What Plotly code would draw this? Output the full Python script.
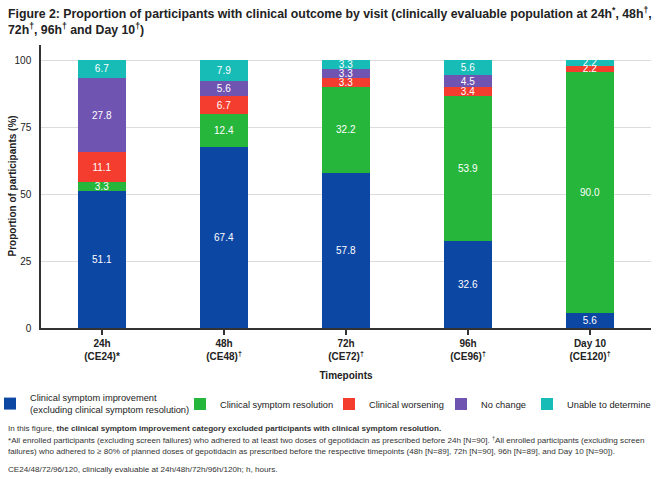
import plotly.graph_objects as go

categories = ["24h<br>(CE24)*", "48h<br>(CE48)<sup>†</sup>", "72h<br>(CE72)<sup>†</sup>",
              "96h<br>(CE96)<sup>†</sup>", "Day 10<br>(CE120)<sup>†</sup>"]
improvement = [51.1, 67.4, 57.8, 32.6, 5.6]
resolution = [3.3, 12.4, 32.2, 53.9, 90.0]
worsening = [11.1, 6.7, 3.3, 3.4, 2.2]
no_change = [27.8, 5.6, 3.3, 4.5, 0.0]
unable = [6.7, 7.9, 3.3, 5.6, 2.2]

series = [
    ("Clinical symptom improvement<br>(excluding clinical symptom resolution)", improvement, "#0c47a3"),
    ("Clinical symptom resolution", resolution, "#27b63c"),
    ("Clinical worsening", worsening, "#f43c2f"),
    ("No change", no_change, "#7054b2"),
    ("Unable to determine", unable, "#17bcb7"),
]
legend_text_x = [30, 220, 369, 481, 567]

W, H = 656, 479
L, R, T, B = 41, 5, 45, 151
pw, ph = W - L - R, H - T - B

def px(x):
    return (x - L) / pw

def py(y):
    return (H - B - y) / ph

FONT = "Liberation Sans, Arial, sans-serif"

fig = go.Figure()
legends = {}
for i, (name, vals, color) in enumerate(series):
    lname = "legend" if i == 0 else f"legend{i + 1}"
    fig.add_trace(go.Bar(
        x=categories, y=vals, name=name, legend=lname,
        marker=dict(color=color, line=dict(width=0)),
        text=[f"{v:.1f}" if v > 0 else "" for v in vals],
        textposition="inside", insidetextanchor="middle", textangle=0,
        textfont=dict(color="white", size=10, family=FONT),
        hoverinfo="skip",
    ))
    legends[lname] = dict(
        orientation="v", x=px(legend_text_x[i] - 40), xanchor="left",
        y=py(404), yanchor="middle", valign="middle",
        font=dict(size=9.3, color="#222", family=FONT),
        itemclick=False, itemdoubleclick=False, bgcolor="rgba(0,0,0,0)",
    )

fig.update_layout(
    barmode="stack", bargap=0.605,
    width=W, height=H,
    margin=dict(l=L, r=R, t=T, b=B, autoexpand=False),
    plot_bgcolor="white", paper_bgcolor="white",
    font=dict(family=FONT, color="#222", size=10),
    uniformtext=dict(minsize=10, mode="show"),
    showlegend=True,
    **legends,
)

fig.add_annotation(
    text="<b>Figure 2: Proportion of participants with clinical outcome by visit (clinically evaluable population at 24h<sup>*</sup>, 48h<sup>†</sup>,<br>72h<sup>†</sup>, 96h<sup>†</sup> and Day 10<sup>†</sup>)</b>",
    xref="paper", yref="paper", x=px(6), y=py(3), xanchor="left", yanchor="top",
    showarrow=False, align="left",
    font=dict(size=12.3, color="#222", family=FONT),
)

# y-axis title
fig.add_annotation(
    text="<b>Proportion of participants (%)</b>",
    xref="paper", yref="paper", x=px(12), y=0.5, xanchor="center", yanchor="middle",
    textangle=-90, showarrow=False,
    font=dict(size=10, color="#222", family=FONT),
)

fig.update_xaxes(
    showline=True, linecolor="#333", linewidth=1.5,
    ticks="outside", ticklen=5, tickcolor="#333", tickwidth=1.5,
    tickfont=dict(size=10, color="#222", family=FONT),
    tickprefix="<b>", ticksuffix="</b>",
    title=dict(text="<b>Timepoints</b>", font=dict(size=10, color="#222"), standoff=11),
    showgrid=False, automargin=True,
)

fig.update_yaxes(
    range=[0, 105.6], tickvals=[0, 25, 50, 75, 100],
    showline=True, linecolor="#333", linewidth=1.5,
    showgrid=True, gridcolor="#dcdcdc", gridwidth=1,
    zeroline=False, ticks="", ticklabelstandoff=6,
    tickfont=dict(size=10, color="#222", family=FONT),
    automargin=False,
)

notes = [
    (429, "In this figure, <b>the clinical symptom improvement category excluded participants with clinical symptom resolution.</b>"),
    (440, "*All enrolled participants (excluding screen failures) who adhered to at least two doses of gepotidacin as prescribed before 24h [N=90]. <sup>†</sup>All enrolled participants (excluding screen"),
    (451, "failures) who adhered to ≥ 80% of planned doses of gepotidacin as prescribed before the respective timepoints (48h [N=89], 72h [N=90], 96h [N=89], and Day 10 [N=90])."),
    (469, "CE24/48/72/96/120, clinically evaluable at 24h/48h/72h/96h/120h; h, hours."),
]
for y, t in notes:
    fig.add_annotation(
        text=t, xref="paper", yref="paper", x=px(6), y=py(y),
        xanchor="left", yanchor="middle", showarrow=False,
        font=dict(size=8.1, color="#333", family=FONT), align="left",
    )

fig.write_html("out.html")
